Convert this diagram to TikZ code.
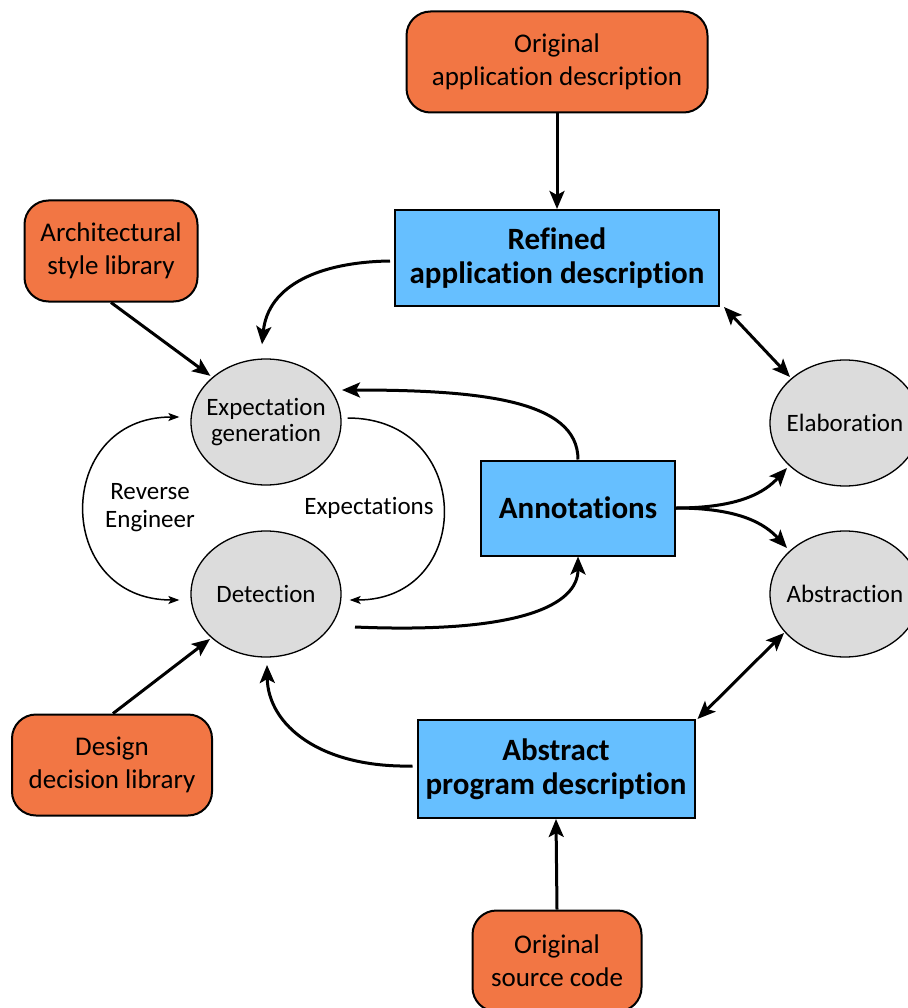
\documentclass[tikz,border=0pt]{standalone}
\usepackage{fontspec}
\setmainfont{Carlito}[Ligatures=NoCommon]
\usetikzlibrary{arrows.meta,shapes.geometric,calc}
\definecolor{srcorange}{RGB}{242,118,68}
\definecolor{artblue}{RGB}{102,191,255}
\definecolor{actgray}{RGB}{220,220,220}
\tikzset{
  source/.style={draw=black, line width=2pt, fill=srcorange, rounded corners=24pt,
    align=center, font=\fontsize{27}{33}\selectfont, inner sep=0pt},
  artefact/.style={draw=black, line width=2pt, fill=artblue, align=center,
    font=\fontsize{31}{34}\bfseries\selectfont, inner sep=0pt},
  activity/.style={ellipse, draw=black, line width=1.3pt, fill=actgray, align=center,
    minimum width=150pt, minimum height=126pt, inner sep=-10pt,
    font=\fontsize{25}{26}\selectfont},
  flow/.style={line width=3pt, -{Stealth[length=18pt,width=15pt,inset=4pt]}},
  bothflow/.style={line width=3pt, {Stealth[length=18pt,width=15pt,inset=4pt]}-{Stealth[length=18pt,width=15pt,inset=4pt]}},
  loop/.style={line width=1.5pt, -{Stealth[length=11pt,width=8pt,inset=2.5pt]}},
  bothloop/.style={line width=1.5pt, {Stealth[length=11pt,width=8pt,inset=2.5pt]}-{Stealth[length=11pt,width=8pt,inset=2.5pt]}},
  looplabel/.style={align=center, font=\fontsize{25}{28}\selectfont, inner sep=0pt}
}
\begin{document}
\begin{tikzpicture}[x=1pt, y=-1pt]
\useasboundingbox (0,0) rectangle (907,1008);

% inputs
\node[source, minimum width=301pt, minimum height=101pt] (origapp) at (557,62) {Original\\application description};
\node[source, minimum width=173pt, minimum height=101pt] (archlib) at (111,251) {Architectural\\style library};
\node[source, minimum width=200pt, minimum height=101pt] (designlib) at (112,765) {Design\\decision library};
\node[source, minimum width=169pt, minimum height=101pt] (origsrc) at (557,961) {Original\\source code};

% artefacts
\node[artefact, minimum width=324pt, minimum height=96pt] (refined) at (557,258) {Refined\\application description};
\node[artefact, minimum width=194pt, minimum height=95pt] (annot) at (578,508) {Annotations};
\node[artefact, minimum width=277pt, minimum height=98pt] (abstract) at (556,769) {Abstract\\program description};

% activities
\node[activity] (expgen) at (266,422) {Expectation\\generation};
\node[activity] (detect) at (266,594) {Detection};
\node[activity] (elab) at (845,423) {Elaboration};
\node[activity] (abstr) at (845,594) {Abstraction};

% straight flows
\draw[flow] (origapp.south) -- (refined.north);
\draw[flow] (origsrc.north) -- (abstract.south);
\draw[flow, shorten >=2pt] (archlib.south) -- (212,377);
\draw[flow] ($(designlib.north)+(1,0)$) -- (210,639);
\draw[bothflow] (refined.south east) ++(4,0) -- (790,377);
\draw[bothflow] (abstract.north east) ++(2,0) -- (784,633);

% curved flows
\draw[flow] ($(refined.west)+(-4,3)$) .. controls (320,262) and (268,285) .. ($(expgen.north)+(-4,-14)$);
\draw[flow] (annot.north) .. controls (578,400) and (480,390) .. (342,390);
\draw[flow] (355,627) .. controls (520,634) and (578,605) .. (annot.south);
\draw[flow] ($(abstract.west)+(-4,-3)$) .. controls (320,768) and (268,725) .. (267,665);
\draw[flow] (annot.east) .. controls (740,508) and (765,492) .. (787,468);
\draw[flow] (annot.east) .. controls (740,508) and (765,524) .. (787,548);

% loop between expectation generation and detection
\draw[loop] ($(expgen.east)+(6,-4)$) .. controls (475,418) and (475,600) .. ($(detect.east)+(8,6)$);
\draw[bothloop] ($(expgen.west)+(-11,-5)$) .. controls (53,417) and (53,600) .. ($(detect.west)+(-11,6)$);
\node[looplabel] (explabel) at (369,508) {Expectations};
\node[looplabel] (revlabel) at (150,508) {Reverse\\Engineer};
\end{tikzpicture}
\end{document}
